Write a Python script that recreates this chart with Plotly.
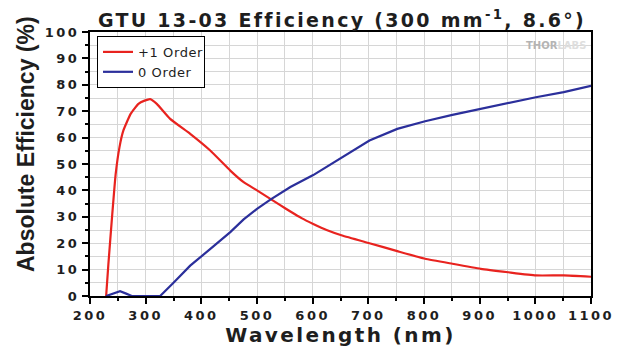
import plotly.graph_objects as go

# +1 Order (red)
wl_p1 = [229, 233, 240, 246, 253, 260, 273, 287, 298, 308, 320, 344, 380, 416, 452, 476, 500, 524, 541, 560, 580, 601, 625, 653, 702, 752, 802, 851, 902, 951, 1001, 1051, 1100]
eff_p1 = [0, 12, 31, 46, 56.4, 62.7, 69, 72.8, 74, 74.6, 72.8, 67.1, 61.4, 55.1, 47.5, 43.1, 40, 36.8, 34.5, 32, 29.5, 27.3, 25, 22.9, 20, 17, 14.1, 12.2, 10.3, 9, 7.8, 7.8, 7.3]

# 0 Order (blue)
wl_0 = [229, 240, 254, 265, 275, 300, 326, 350, 380, 420, 452, 476, 500, 524, 541, 560, 601, 653, 702, 752, 802, 851, 902, 951, 1001, 1051, 1100]
eff_0 = [0, 0.8, 1.8, 0.9, 0, 0, 0, 5, 11.5, 18.5, 24.2, 29, 33, 36.5, 38.9, 41.3, 45.8, 52.6, 58.9, 63.3, 66.2, 68.6, 70.9, 73, 75.3, 77.2, 79.6]

ARIAL = "Liberation Sans, Arial, sans-serif"
WIDE = "DejaVu Sans, Verdana, sans-serif"
INK = "#1e1e1e"

fig = go.Figure()
fig.add_trace(go.Scatter(x=wl_p1, y=eff_p1, mode="lines", name="+1 Order",
                         line=dict(color="#e8231f", width=2.2, shape="spline", smoothing=0.4)))
fig.add_trace(go.Scatter(x=wl_0, y=eff_0, mode="lines", name="0 Order",
                         line=dict(color="#2b2f9b", width=2.2)))

axis_common = dict(
    showline=True, linecolor="black", linewidth=2, mirror=True,
    ticks="outside", ticklen=6, tickwidth=1.5, tickcolor="black",
    showgrid=True, gridcolor="#d6d6d6", gridwidth=1,
    zeroline=False, automargin=False,
    tickfont=dict(family=WIDE, size=13, color=INK, weight="bold"),
)

fig.update_xaxes(range=[200, 1100], dtick=100, tick0=200,
                 minor=dict(dtick=50, ticks="outside", ticklen=3, tickcolor="black", showgrid=True, gridcolor="#d6d6d6"),
                 title=dict(text="Wavelength (nm)", font=dict(family=WIDE, size=20, color=INK, weight="bold"), standoff=6),
                 **axis_common)
fig.update_yaxes(range=[0, 100], dtick=10, tick0=0,
                 minor=dict(dtick=5, ticks="outside", ticklen=3, tickcolor="black", showgrid=True, gridcolor="#d6d6d6"),
                 **axis_common)

fig.update_layout(
    width=620, height=350,
    margin=dict(l=90, r=29, t=32, b=54),
    paper_bgcolor="white", plot_bgcolor="white",
    title=dict(text="GTU 13-03 Efficiency (300 mm<sup>-1</sup>, 8.6°)", x=342 / 620, xanchor="center",
               y=1 - 20 / 350, yanchor="middle",
               font=dict(family=WIDE, size=19, color=INK, weight="bold")),
    legend=dict(x=0.014, y=0.985, xanchor="left", yanchor="top", bgcolor="white",
                bordercolor="black", borderwidth=1,
                font=dict(family=WIDE, size=13, color=INK),
                tracegroupgap=0),
    showlegend=True,
)

# y-axis title (positioned like the reference, slightly above the plot centre)
fig.add_annotation(text="<b>Absolute Efficiency (%)</b>", xref="paper", yref="paper",
                   x=(26 - 90) / 501, y=(296 - 144) / 264, xanchor="center", yanchor="middle",
                   textangle=-90, showarrow=False,
                   font=dict(family=ARIAL, size=23, color=INK))

# watermark
fig.add_annotation(text="<span style='color:#b4b4b4'>THOR</span><span style='color:#dedede'>LABS</span>",
                   xref="paper", yref="paper", x=(588 - 90) / 501, y=(296 - 46) / 264,
                   xanchor="right", yanchor="middle", showarrow=False,
                   font=dict(family=WIDE, size=10, weight="bold"))

post = """
var gd = document.getElementById('{plot_id}');
function ls(sel, v){ gd.querySelectorAll(sel).forEach(function(e){ e.style.letterSpacing = v; }); }
ls('.gtitle', '2.3px');
ls('.xtick text', '2.5px');
ls('.ytick text', '2.5px');
ls('.xtitle', '2.4px');
ls('.legendtext', '0.6px');
"""

fig.write_html("out.html", post_script=post)
